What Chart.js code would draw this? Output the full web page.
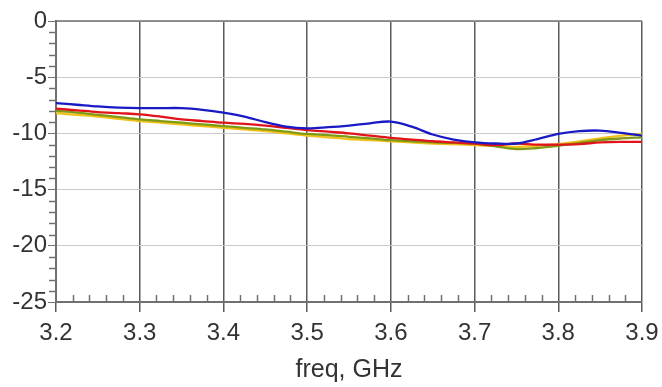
<!DOCTYPE html>
<html>
<head>
<meta charset="utf-8">
<script src="https://cdn.jsdelivr.net/npm/chart.js@4.4.1/dist/chart.umd.min.js"></script>
<style>
html,body{margin:0;padding:0;background:#fff;}
#wrap{width:662px;height:387px;position:relative;}
</style>
</head>
<body>
<div id="wrap"><canvas id="c" width="662" height="387"></canvas></div>
<script>
const freq = [3.2,3.225,3.25,3.275,3.3,3.325,3.35,3.375,3.4,3.425,3.45,3.475,3.5,3.525,3.55,3.575,3.6,3.625,3.65,3.675,3.7,3.725,3.75,3.775,3.8,3.825,3.85,3.875,3.9];
const blueS = [-7.3,-7.45,-7.6,-7.7,-7.75,-7.75,-7.75,-7.9,-8.15,-8.5,-9.0,-9.4,-9.55,-9.45,-9.3,-9.1,-8.95,-9.4,-10.1,-10.55,-10.8,-10.9,-10.9,-10.5,-10.05,-9.8,-9.75,-9.95,-10.2];
const redS = [-7.8,-7.95,-8.1,-8.2,-8.3,-8.5,-8.75,-8.9,-9.05,-9.15,-9.3,-9.5,-9.7,-9.85,-10.0,-10.2,-10.4,-10.55,-10.7,-10.8,-10.9,-11.05,-10.9,-11.0,-11.0,-10.95,-10.8,-10.75,-10.75];
const greenS = [-8.0,-8.15,-8.35,-8.55,-8.75,-8.9,-9.05,-9.2,-9.35,-9.5,-9.65,-9.85,-10.05,-10.15,-10.3,-10.45,-10.6,-10.7,-10.8,-10.85,-10.9,-11.15,-11.4,-11.3,-11.1,-10.85,-10.6,-10.45,-10.35];
const yellowS = [-8.2,-8.35,-8.5,-8.7,-8.9,-9.05,-9.2,-9.35,-9.5,-9.65,-9.8,-10.0,-10.2,-10.35,-10.5,-10.6,-10.7,-10.8,-10.9,-10.95,-11.05,-11.1,-11.2,-11.1,-10.95,-10.7,-10.45,-10.2,-10.05];
const xTickValues = [3.2,3.3,3.4,3.5,3.6,3.7,3.8,3.9];
const yTickValues = [0,-5,-10,-15,-20,-25];
const xTitle = 'freq, GHz';

function pts(ys){ return freq.map((f,i)=>({x:f,y:ys[i]})); }

const FONT = "'Liberation Sans', Arial, sans-serif";

const minorTicks = {
  id:'minorTicks',
  afterDraw(chart){
    const ctx = chart.ctx, xs = chart.scales.x, ys = chart.scales.y, a = chart.chartArea;
    ctx.save();
    ctx.strokeStyle = '#707070';
    ctx.lineWidth = 1.5;
    ctx.beginPath(); ctx.moveTo(a.left, a.top); ctx.lineTo(a.right, a.top); ctx.stroke();
    for (let v = -25; v <= 0; v += 1) {
      if (v % 5 === 0) continue;
      const y = Math.round(ys.getPixelForValue(v)) + 0.5;
      ctx.beginPath(); ctx.moveTo(a.left - 7, y); ctx.lineTo(a.left, y); ctx.stroke();
    }
    for (let k = 0; k <= 35; k++) {
      if (k % 5 === 0) continue;
      const v = 3.2 + k * 0.02;
      const x = Math.round(xs.getPixelForValue(v)) + 0.5;
      ctx.beginPath(); ctx.moveTo(x, a.bottom); ctx.lineTo(x, a.bottom - 7); ctx.stroke();
    }
    ctx.restore();
  }
};

new Chart(document.getElementById('c'), {
  type: 'line',
  data: {
    datasets: [
      {label:'blue', data: pts(blueS), borderColor:'#1a1ac4', borderWidth:2.3},
      {label:'red', data: pts(redS), borderColor:'#e0141a', borderWidth:2.3},
      {label:'green', data: pts(greenS), borderColor:'#7f9a16', borderWidth:2.3},
      {label:'yellow', data: pts(yellowS), borderColor:'#f2c21c', borderWidth:2.3}
    ]
  },
  options: {
    responsive:false,
    animation:false,
    layout:{padding:{top:21, right:20, left:0, bottom:0}},
    elements:{point:{radius:0}, line:{tension:0.35, fill:false}},
    plugins:{legend:{display:false}, tooltip:{enabled:false}, title:{display:false}},
    scales:{
      x:{
        type:'linear', min:3.2, max:3.9,
        afterBuildTicks(s){ s.ticks = xTickValues.map(v=>({value:v})); },
        ticks:{callback:v=>v.toFixed(1), color:'#333', font:{family:FONT, size:24}, padding:7, maxRotation:0, autoSkip:false},
        grid:{color:'#5a5a5a', lineWidth:1.5, tickLength:10, drawTicks:true},
        border:{color:'#707070', width:2},
        title:{display:true, text:xTitle, color:'#333', font:{family:FONT, size:25}, padding:{top:0,bottom:2}},
        afterFit(s){ s.height = 85; s.paddingLeft = 0; s.paddingRight = 0; }
      },
      y:{
        type:'linear', min:-25, max:0,
        afterBuildTicks(s){ s.ticks = yTickValues.map(v=>({value:v})); },
        ticks:{color:'#333', font:{family:FONT, size:24}, padding:1},
        grid:{color:'#c8c8c8', lineWidth:1, tickLength:8, tickColor:'#707070', drawTicks:true},
        border:{color:'#707070', width:2},
        afterFit(s){ s.width = 56; s.paddingTop = 0; s.paddingBottom = 0; }
      }
    }
  },
  plugins:[minorTicks]
});
</script>
</body>
</html>
